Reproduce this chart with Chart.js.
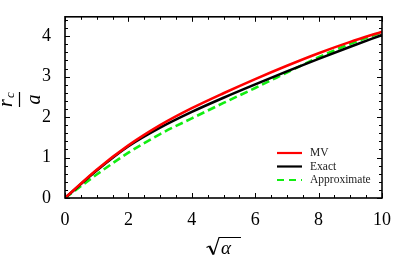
<!DOCTYPE html>
<html><head><meta charset="utf-8">
<script src="https://cdn.jsdelivr.net/npm/chart.js@4"></script>
<style>html,body{margin:0;padding:0;background:#fff}#w{width:394px;height:259px}</style>
</head><body><div id="w"><canvas id="c"></canvas></div>
<script>
const sqrtAlpha = [0, 1, 2, 3, 4, 5, 6, 7, 8, 9, 10];
const mv        = [0, 0.70, 1.30, 1.80, 2.22, 2.59, 2.94, 3.27, 3.58, 3.86, 4.11];
const exact     = [0, 0.68, 1.28, 1.74, 2.13, 2.48, 2.81, 3.13, 3.44, 3.74, 4.03];
const approx    = [0, 0.58, 1.12, 1.58, 1.97, 2.35, 2.72, 3.10, 3.48, 3.81, 4.10];
const seriesNames = ["MV", "Exact", "Approximate"];
const xTicks = [0, 2, 4, 6, 8, 10];
const yTicks = [0, 1, 2, 3, 4];

const pts = arr => sqrtAlpha.map((x, i) => ({x, y: arr[i]}));
const SERIF = "'Liberation Serif', 'DejaVu Serif', serif";

const frame = {
  id: 'frame',
  afterDatasetsDraw(chart) {
    const {ctx, chartArea: a, scales: {x, y}} = chart;
    ctx.save();
    ctx.strokeStyle = '#000';
    ctx.lineWidth = 1;
    ctx.beginPath();
    for (let v = 0; v <= 10.001; v += 0.5) {
      const px = Math.round(x.getPixelForValue(v)) + 0.5;
      const L = Math.abs(v - Math.round(v / 2) * 2) < 1e-6 ? 5 : 3;
      ctx.moveTo(px, a.bottom); ctx.lineTo(px, a.bottom - L);
      ctx.moveTo(px, a.top); ctx.lineTo(px, a.top + L);
    }
    for (let v = 0; v <= 4.5001; v += 0.2) {
      const py = Math.round(y.getPixelForValue(v)) + 0.5;
      const L = Math.abs(v - Math.round(v)) < 1e-6 ? 5 : 3;
      ctx.moveTo(a.left, py); ctx.lineTo(a.left + L, py);
      ctx.moveTo(a.right, py); ctx.lineTo(a.right - L, py);
    }
    ctx.stroke();
    ctx.lineWidth = 1.6;
    ctx.strokeRect(a.left, a.top, a.right - a.left, a.bottom - a.top);

    // legend
    const ds = chart.data.datasets;
    ctx.font = '11.5px ' + SERIF;
    ctx.textBaseline = 'middle';
    ctx.fillStyle = '#222';
    ds.forEach((d, i) => {
      const yy = 153 + i * 13.5;
      ctx.beginPath();
      ctx.strokeStyle = d.borderColor;
      ctx.lineWidth = 2.2;
      ctx.setLineDash(d.borderDash ? [7, 5] : []);
      ctx.moveTo(277, yy); ctx.lineTo(302, yy);
      ctx.stroke();
      ctx.setLineDash([]);
      ctx.fillText(d.label, 310, yy);
    });

    // y title: r_c / a, rotated
    ctx.fillStyle = '#000';
    ctx.strokeStyle = '#000';
    ctx.save();
    ctx.translate(20, 100);
    ctx.rotate(-Math.PI / 2);
    ctx.textBaseline = 'alphabetic';
    ctx.textAlign = 'left';
    ctx.font = 'italic 20px ' + SERIF;
    ctx.fillText('r', -7, -8);
    ctx.font = 'italic 13px ' + SERIF;
    ctx.fillText('c', 2, -6);
    ctx.font = 'italic 20px ' + SERIF;
    ctx.textAlign = 'center';
    ctx.fillText('a', 0.5, 20);
    ctx.lineWidth = 1.2;
    ctx.beginPath(); ctx.moveTo(-7, -0.5); ctx.lineTo(8, -0.5); ctx.stroke();
    ctx.restore();

    // x title: sqrt alpha (radical drawn as a path, alpha as text)
    ctx.lineJoin = 'miter';
    ctx.lineWidth = 1.2;
    ctx.beginPath();
    ctx.moveTo(206.5, 247.5); ctx.lineTo(209.5, 246);
    ctx.stroke();
    ctx.lineWidth = 2.2;
    ctx.beginPath();
    ctx.moveTo(209.5, 246); ctx.lineTo(213.5, 254.5);
    ctx.stroke();
    ctx.lineWidth = 1.2;
    ctx.beginPath();
    ctx.moveTo(213.5, 254.5); ctx.lineTo(219, 237.5); ctx.lineTo(241, 237.5);
    ctx.stroke();
    ctx.textAlign = 'left';
    ctx.textBaseline = 'alphabetic';
    ctx.font = 'italic 19px ' + SERIF;
    ctx.fillText('\u03B1', 221, 254);
    ctx.restore();
  }
};

new Chart(document.getElementById('c'), {
  type: 'line',
  data: {
    datasets: [
      {label: seriesNames[0], data: pts(mv), borderColor: '#ff0000', borderWidth: 2.6, pointRadius: 0, cubicInterpolationMode: 'monotone'},
      {label: seriesNames[1], data: pts(exact), borderColor: '#000000', borderWidth: 2.6, pointRadius: 0, cubicInterpolationMode: 'monotone'},
      {label: seriesNames[2], data: pts(approx), borderColor: '#11ee11', borderWidth: 2.6, borderDash: [8, 4], pointRadius: 0, cubicInterpolationMode: 'monotone'}
    ]
  },
  options: {
    responsive: true, maintainAspectRatio: false, animation: false,
    layout: {padding: {left: 0, right: 11, top: 2, bottom: 0}},
    plugins: {legend: {display: false}, tooltip: {enabled: false}},
    scales: {
      x: {
        type: 'linear', min: 0, max: 10,
        afterBuildTicks: s => { s.ticks = xTicks.map(v => ({value: v})); },
        afterFit: s => { s.height = 61; },
        grid: {display: false}, border: {display: false},
        ticks: {color: '#000', font: {family: SERIF, size: 18}, padding: 3, maxRotation: 0}
      },
      y: {
        type: 'linear', min: 0, max: 4.48,
        afterBuildTicks: s => { s.ticks = yTicks.map(v => ({value: v})); },
        afterFit: s => { s.width = 65; },
        grid: {display: false}, border: {display: false},
        ticks: {color: '#000', font: {family: SERIF, size: 18}, padding: 6}
      }
    }
  },
  plugins: [frame]
});
</script></body></html>
